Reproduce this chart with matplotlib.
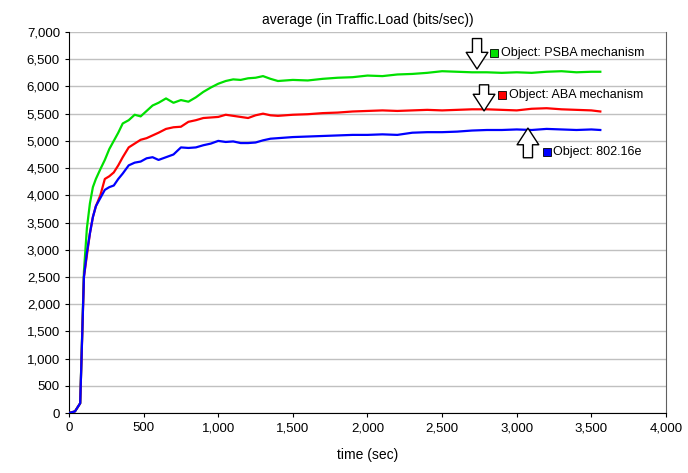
import matplotlib.pyplot as plt
import numpy as np

plt.rcParams['font.family'] = ['Liberation Sans', 'DejaVu Sans']

# time axis (sec)
t = [0, 40, 75, 100, 120, 140, 160, 180, 210, 240, 270, 300, 330, 360, 400, 440,
     480, 520, 560, 600, 650, 700, 750, 800, 850, 900, 950, 1000, 1050, 1100,
     1150, 1200, 1250, 1300, 1350, 1400, 1500, 1600, 1700, 1800, 1900, 2000,
     2100, 2200, 2300, 2400, 2500, 2600, 2700, 2800, 2900, 3000, 3100, 3200,
     3300, 3400, 3500, 3560]

psba = [0, 30, 180, 2600, 3400, 3850, 4150, 4300, 4480, 4650, 4850, 5000, 5150,
        5320, 5380, 5480, 5450, 5550, 5650, 5700, 5780, 5700, 5750, 5720, 5800,
        5900, 5980, 6050, 6100, 6130, 6120, 6150, 6160, 6190, 6140, 6100, 6120,
        6110, 6140, 6160, 6170, 6200, 6190, 6220, 6230, 6250, 6280, 6270, 6260,
        6260, 6250, 6260, 6250, 6270, 6280, 6260, 6270, 6270]

aba = [0, 30, 180, 2500, 2900, 3300, 3600, 3800, 4000, 4300, 4350, 4420, 4550,
       4700, 4880, 4950, 5020, 5050, 5100, 5150, 5220, 5250, 5260, 5350, 5380,
       5420, 5430, 5440, 5480, 5460, 5440, 5420, 5470, 5500, 5470, 5460, 5480,
       5490, 5510, 5520, 5540, 5550, 5560, 5550, 5560, 5570, 5560, 5570, 5580,
       5580, 5570, 5560, 5590, 5600, 5580, 5570, 5560, 5540]

ieee = [0, 30, 180, 2500, 2950, 3300, 3600, 3800, 3950, 4100, 4150, 4180, 4300,
        4400, 4550, 4600, 4620, 4680, 4700, 4650, 4700, 4750, 4880, 4870, 4880,
        4920, 4950, 5000, 4980, 4990, 4960, 4960, 4970, 5010, 5040, 5050, 5070,
        5080, 5090, 5100, 5110, 5110, 5120, 5110, 5150, 5160, 5160, 5170, 5190,
        5200, 5200, 5210, 5200, 5220, 5210, 5200, 5210, 5200]

series = [("Object: PSBA mechanism", psba, "#00e000"),
          ("Object: ABA mechanism", aba, "#ff0000"),
          ("Object: 802.16e", ieee, "#0000ff")]

# callout arrows (tail, tip) and label anchors
arrows = [((2734, 6880), (2734, 6320)),
          ((2781, 6030), (2781, 5550)),
          ((3075, 4690), (3075, 5235))]
labels = [(2850, 6610), (2903, 5840), (3200, 4790)]

fig = plt.figure(figsize=(6.88, 4.73), dpi=100)
ax = fig.add_axes([0.1003, 0.1268, 0.8677, 0.8055])

for name, vals, col in series:
    ax.plot(t, vals, color=col, lw=1.6, zorder=3)

for (tail, tip) in arrows:
    ax.annotate('', xy=tip, xytext=tail,
                arrowprops=dict(arrowstyle='simple,head_width=1.3,head_length=1.0,tail_width=0.55',
                                mutation_scale=12, fc='white', ec='black', lw=1,
                                shrinkA=0, shrinkB=0), zorder=4)

for (name, vals, col), (lx, ly) in zip(series, labels):
    ax.plot(lx, ly, marker='s', ms=6, mfc=col, mec='black', mew=0.6, zorder=5,
            clip_on=False)
    ax.text(lx + 45, ly, name, fontsize=9, va='center', ha='left', zorder=5)

ax.set_xlim(0, 4000)
ax.set_ylim(0, 7000)
ax.set_xticks(np.arange(0, 4001, 500))
ax.set_yticks(np.arange(0, 7001, 500))
ax.set_xticklabels([f"{v:,}" for v in range(0, 4001, 500)])
ax.set_yticklabels([f"{v:,}" for v in range(0, 7001, 500)])
ax.tick_params(labelsize=9.5, length=3, color='black')
ax.yaxis.grid(True, color='#c0c0c0', lw=1)
ax.set_axisbelow(True)

ax.spines['top'].set_visible(False)
ax.spines['right'].set_color('#606060')
ax.spines['left'].set_color('black')
ax.spines['bottom'].set_color('black')

ax.set_title('average (in Traffic.Load (bits/sec))', fontsize=10, pad=6)
ax.set_xlabel('time (sec)', fontsize=10, labelpad=10)

fig.savefig('out.png', dpi=100)
